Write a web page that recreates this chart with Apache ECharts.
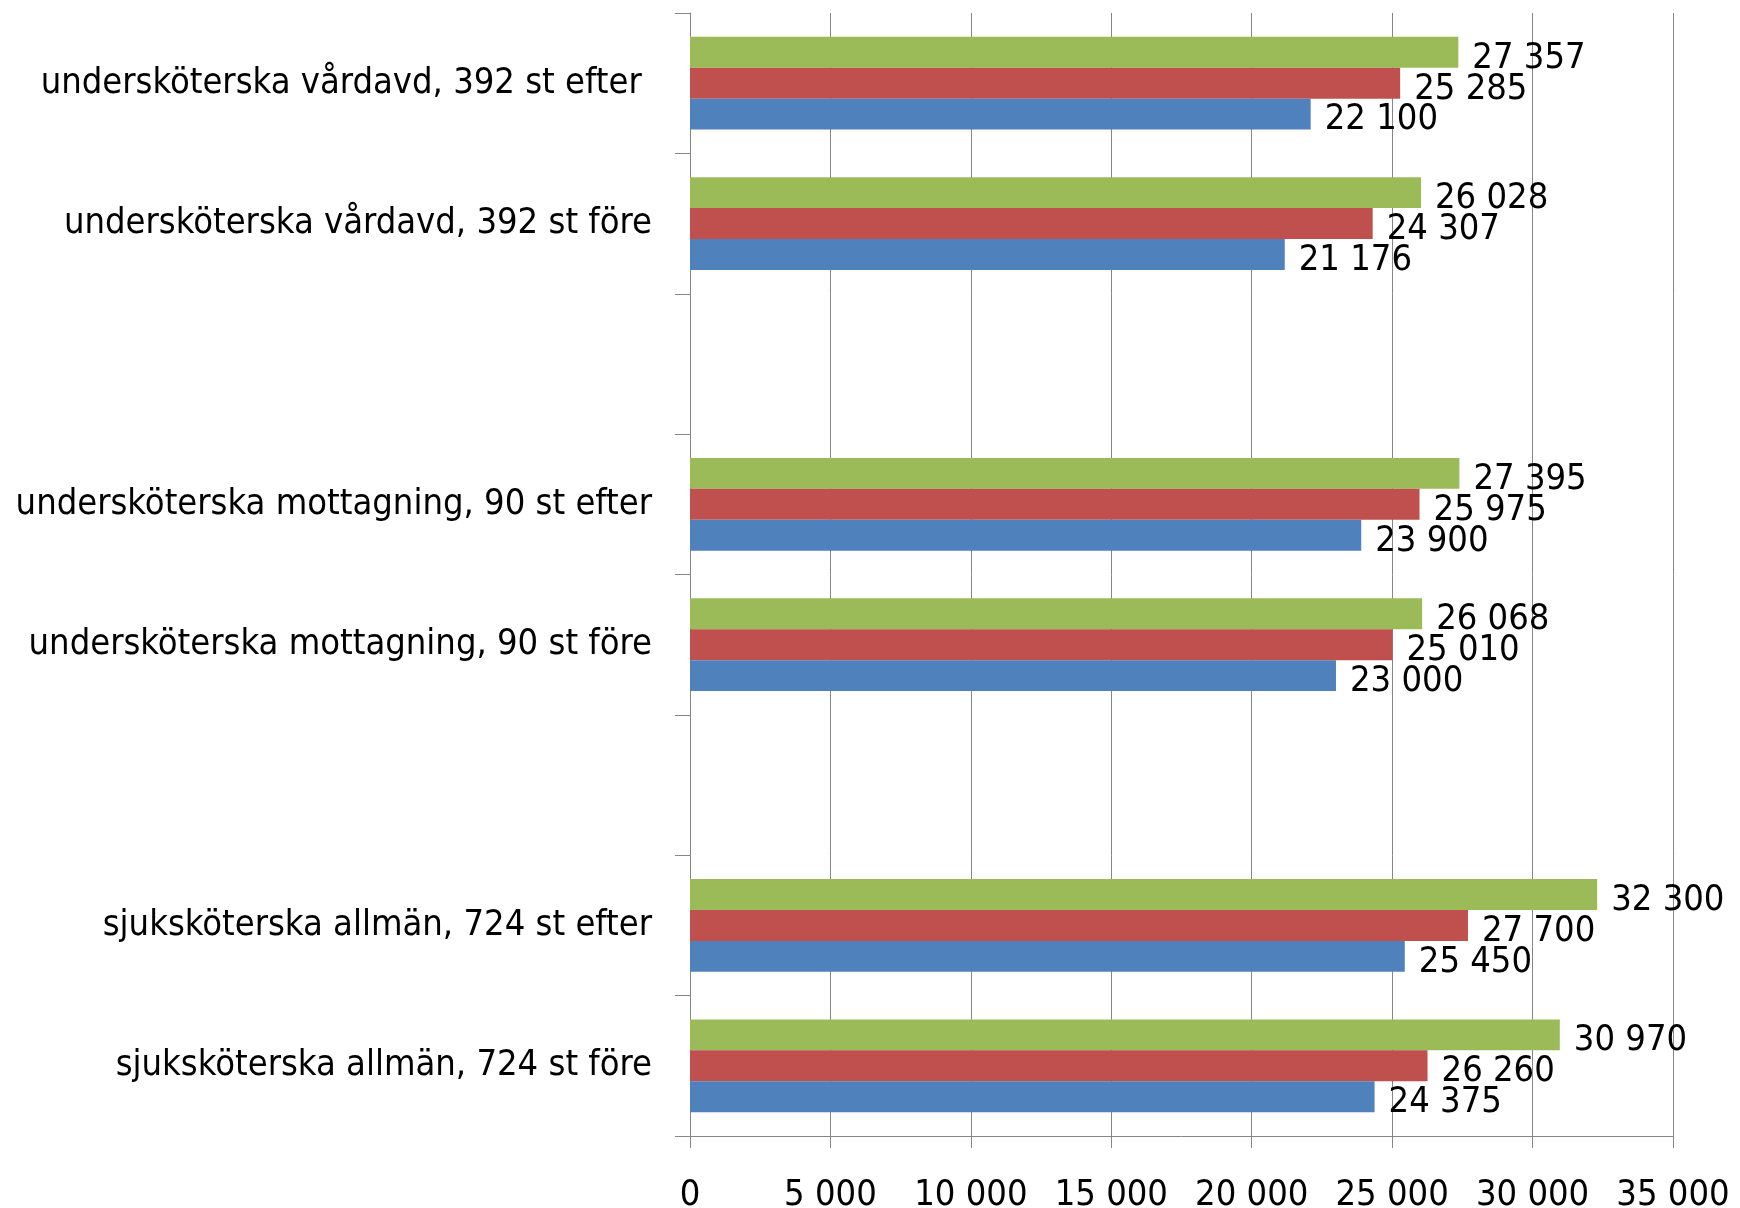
<!DOCTYPE html>
<html>
<head>
<meta charset="utf-8">
<script src="https://cdn.jsdelivr.net/npm/echarts@6/dist/echarts.min.js"></script>
<style>
  html, body { margin: 0; padding: 0; background: #fff; }
  #chart { width: 1740px; height: 1208px; }
</style>
</head>
<body>
<div id="chart"></div>
<script>
// kategorier, nerifrån och upp (tomma rader mellan grupperna)
var categories = [
  'sjuksköterska allmän, 724 st före',
  'sjuksköterska allmän, 724 st efter',
  '',
  'undersköterska mottagning, 90 st före',
  'undersköterska mottagning, 90 st efter',
  '',
  'undersköterska vårdavd, 392 st före',
  'undersköterska vårdavd, 392 st efter '
];
var blueValues  = [24375, 25450, null, 23000, 23900, null, 21176, 22100];
var redValues   = [26260, 27700, null, 25010, 25975, null, 24307, 25285];
var greenValues = [30970, 32300, null, 26068, 27395, null, 26028, 27357];

var xTicks = { min: 0, max: 35000, interval: 5000 };

var fontFam = "'Liberation Sans Narrow', 'DejaVu Sans Condensed', sans-serif";

function fmt(v) {
  return String(v).replace(/\B(?=(\d{3})+(?!\d))/g, ' ');
}

function makeSeries(name, data, color) {
  return {
    name: name,
    type: 'bar',
    data: data,
    barCategoryGap: '34%',
    barGap: '0%',
    itemStyle: { color: color },
    label: {
      show: true,
      position: 'right',
      distance: 14,
      offset: [0, 6],
      color: '#000',
      fontSize: 36,
      fontFamily: fontFam,
      formatter: function (p) { return fmt(p.value); }
    }
  };
}

var chart = echarts.init(document.getElementById('chart'), null, { renderer: 'canvas' });

var option = {
  animation: false,
  grid: {
    left: 690,
    right: 67,
    top: 13,
    bottom: 72,
    containLabel: false,
    outerBoundsMode: 'none'
  },
  xAxis: {
    type: 'value',
    min: xTicks.min,
    max: xTicks.max,
    interval: xTicks.interval,
    axisLine: { show: true, lineStyle: { color: '#868686', width: 1 } },
    axisTick: { show: true, length: 12, lineStyle: { color: '#868686' } },
    splitLine: { show: true, lineStyle: { color: '#868686', width: 1 } },
    axisLabel: {
      color: '#000',
      fontSize: 36,
      fontFamily: fontFam,
      margin: 42,
      formatter: function (v) { return fmt(v); }
    }
  },
  yAxis: {
    type: 'category',
    data: categories,
    axisLine: { show: true, lineStyle: { color: '#868686', width: 1 } },
    axisTick: { show: true, length: 15, lineStyle: { color: '#868686' } },
    axisLabel: {
      color: '#000',
      fontSize: 36,
      fontFamily: fontFam,
      margin: 38,
      interval: 0
    }
  },
  // grön överst i varje grupp, blå nederst
  series: [
    makeSeries('grön', greenValues, '#9BBB59'),
    makeSeries('röd', redValues, '#C0504D'),
    makeSeries('blå', blueValues, '#4F81BD')
  ]
};

chart.setOption(option);
</script>
</body>
</html>
